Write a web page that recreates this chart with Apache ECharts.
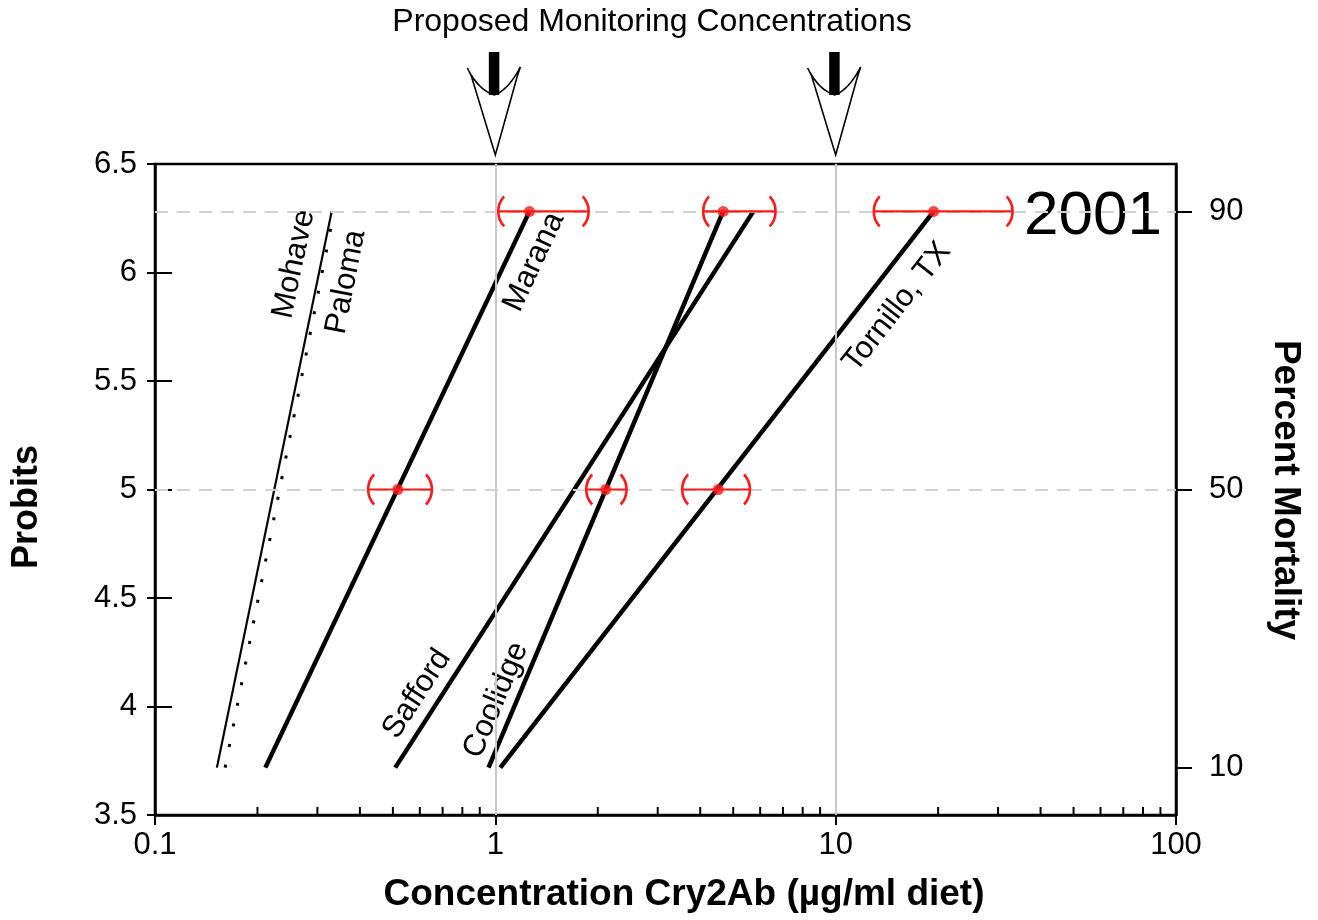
<!DOCTYPE html>
<html><head><meta charset="utf-8">
<script src="https://cdn.jsdelivr.net/npm/echarts@6/dist/echarts.min.js"></script>
<style>html,body{margin:0;padding:0;background:#fff}#chart{width:1318px;height:920px}</style>
</head><body><div id="chart"></div>
<script>
// ---------- data ----------
const populations = ['Mohave', 'Paloma', 'Marana', 'Safford', 'Coolidge', 'Tornillo, TX'];
const conc10 = [0.152, 0.1607, 0.211, 0.508, 0.955, 1.034];   // concentration at 10% mortality
const conc90 = [0.3305, 0.336, 1.26, 5.73, 4.67, 19.4];       // concentration at 90% mortality
const lc50Pops = ['Marana', 'Coolidge', 'Tornillo, TX'];
const lc50 = [0.517, 2.11, 4.52];
const lc50Low = [0.423, 1.85, 3.54];
const lc50High = [0.651, 2.43, 5.60];
const lc90 = [1.26, 4.67, 19.4];
const lc90Low = [1.02, 4.08, 12.94];
const lc90High = [1.88, 6.66, 33.1];
const monitorConc = [1, 10];
const mortalityPct = [10, 50, 90];
const mortalityProbit = [3.7184, 5, 6.2816];
const minorTicks = [0.2,0.3,0.4,0.5,0.6,0.7,0.8,0.9, 2,3,4,5,6,7,8,9, 20,30,40,50,60,70,80,90];

// ---------- styles ----------
const FONT = 'Liberation Sans, Arial, Helvetica, sans-serif';
const RED = '#ff1a1a';
const lineStyles = {
  'Mohave': {color: '#000', width: 2.2, type: 'solid'},
  'Paloma': {color: '#000', width: 3, type: [3, 18]},
  'Marana': {color: '#000', width: 4.5, type: 'solid'},
  'Safford': {color: '#000', width: 4.5, type: 'solid'},
  'Coolidge': {color: '#000', width: 4.5, type: 'solid'},
  'Tornillo, TX': {color: '#000', width: 4.5, type: 'solid'}
};

const chart = echarts.init(document.getElementById('chart'), null, {renderer: 'canvas'});

const lineSeries = populations.map((p, i) => ({
  name: p, type: 'line', xAxisIndex: 0, yAxisIndex: 0,
  data: [[conc10[i], mortalityProbit[0]], [conc90[i], mortalityProbit[2]]],
  showSymbol: false, symbol: 'none', silent: true, z: 4,
  lineStyle: lineStyles[p]
}));

const errData = [];
const dotData = [];
for (let i = 0; i < lc50Pops.length; i++) {
  errData.push([lc50Low[i], lc50High[i], lc50[i], mortalityProbit[1]]);
  errData.push([lc90Low[i], lc90High[i], lc90[i], mortalityProbit[2]]);
  dotData.push([lc50[i], mortalityProbit[1]]);
  dotData.push([lc90[i], mortalityProbit[2]]);
}

function quad(p0, c, p1, n) {
  const pts = [];
  for (let k = 0; k <= n; k++) {
    const t = k / n, u = 1 - t;
    pts.push([u*u*p0[0] + 2*u*t*c[0] + t*t*p1[0], u*u*p0[1] + 2*u*t*c[1] + t*t*p1[1]]);
  }
  return pts;
}

const option = {
  animation: false,
  backgroundColor: '#fff',
  textStyle: {fontFamily: FONT},
  grid: {left: 155, right: 142, top: 164, bottom: 105, show: true, borderColor: '#000', borderWidth: 2.5, backgroundColor: 'transparent'},
  xAxis: [
    {type: 'log', logBase: 10, min: 0.1, max: 100, position: 'bottom',
     axisLine: {show: true, lineStyle: {color: '#000', width: 2.5}},
     axisTick: {show: true, inside: true, length: 15, lineStyle: {color: '#000', width: 2}},
     axisLabel: {fontSize: 31, color: '#000', margin: 15, fontFamily: FONT},
     splitLine: {show: false}, minorTick: {show: false}},
    {type: 'log', logBase: 10, min: 0.1, max: 100, position: 'bottom',
     axisLine: {show: false},
     axisTick: {show: true, inside: false, length: 10, lineStyle: {color: '#000', width: 2}},
     axisLabel: {show: false}, splitLine: {show: false}}
  ],
  yAxis: [
    {type: 'value', min: 3.5, max: 6.5, interval: 0.5, position: 'left',
     axisLine: {show: true, lineStyle: {color: '#000', width: 2.5}},
     axisTick: {show: true, inside: true, length: 17, lineStyle: {color: '#000', width: 2}},
     axisLabel: {fontSize: 31, color: '#000', margin: 18, fontFamily: FONT},
     splitLine: {show: false}},
    {type: 'value', min: 3.5, max: 6.5, interval: 0.5, position: 'left',
     axisLine: {show: false},
     axisTick: {show: true, inside: false, length: 8, lineStyle: {color: '#000', width: 2}},
     axisLabel: {show: false}, splitLine: {show: false}},
    {type: 'value', min: 3.5, max: 6.5, position: 'right',
     axisLine: {show: true, lineStyle: {color: '#000', width: 2.5}},
     axisTick: {show: true, inside: false, length: 16, customValues: mortalityProbit, lineStyle: {color: '#000', width: 2}},
     axisLabel: {fontSize: 31, color: '#000', margin: 33, fontFamily: FONT, customValues: mortalityProbit,
       formatter: v => {
         let best = 0;
         mortalityProbit.forEach((q, k) => { if (Math.abs(q - v) < Math.abs(mortalityProbit[best] - v)) best = k; });
         return String(mortalityPct[best]);
       }},
     splitLine: {show: false}}
  ],
  series: [
    {type: 'line', name: 'guides', data: [], silent: true, z: 1, xAxisIndex: 0, yAxisIndex: 0,
     markLine: {
       silent: true, symbol: 'none', label: {show: false}, animation: false,
       data: monitorConc.map(c => ({xAxis: c, lineStyle: {color: '#c8c8c8', width: 2, type: 'solid'}}))
         .concat([mortalityProbit[1], mortalityProbit[2]].map(p => ({yAxis: p, lineStyle: {color: '#d2d2d2', width: 2, type: [13, 9]}})))
     }},
    {type: 'custom', name: 'minorTicks', xAxisIndex: 0, yAxisIndex: 0, silent: true, z: 5, clip: false,
     data: minorTicks.map(v => [v, 3.5]),
     renderItem: (params, api) => {
       const p = api.coord([api.value(0), api.value(1)]);
       return {type: 'line', shape: {x1: p[0], y1: p[1], x2: p[0], y2: p[1] - 8}, style: {stroke: '#000', lineWidth: 2}};
     }},
    ...lineSeries,
    {type: 'custom', name: 'fiducial', xAxisIndex: 0, yAxisIndex: 0, silent: true, z: 6,
     data: errData,
     encode: {x: [0, 1], y: 3},
     renderItem: (params, api) => {
       const lo = api.coord([api.value(0), api.value(3)]);
       const hi = api.coord([api.value(1), api.value(3)]);
       const r = 22, a = 43 * Math.PI / 180;
       return {type: 'group', children: [
         {type: 'line', shape: {x1: lo[0], y1: lo[1], x2: hi[0], y2: hi[1]}, style: {stroke: RED, lineWidth: 2.2}},
         {type: 'arc', shape: {cx: lo[0] + r, cy: lo[1], r: r, startAngle: Math.PI - a, endAngle: Math.PI + a, clockwise: true}, style: {stroke: RED, lineWidth: 2.6, fill: 'none'}},
         {type: 'arc', shape: {cx: hi[0] - r, cy: hi[1], r: r, startAngle: -a, endAngle: a, clockwise: true}, style: {stroke: RED, lineWidth: 2.6, fill: 'none'}}
       ]};
     }},
    {type: 'scatter', name: 'LC', xAxisIndex: 0, yAxisIndex: 0, data: dotData, symbol: 'circle', symbolSize: 11,
     itemStyle: {color: RED}, silent: true, z: 7},
    {type: 'custom', name: 'monitorArrows', xAxisIndex: 0, yAxisIndex: 0, silent: true, z: 8, clip: false,
     data: monitorConc.map(c => [c, 6.5]),
     renderItem: (params, api) => {
       const p = api.coord([api.value(0), api.value(1)]);
       const x0 = p[0], y0 = p[1];
       const wl = [x0 - 28, y0 - 96], notch = [x0 - 1, y0 - 69], wr = [x0 + 25, y0 - 97];
       let pts = quad(wl, [x0 - 17, y0 - 74], notch, 12);
       pts = pts.concat(quad(notch, [x0 + 13, y0 - 74], wr, 12).slice(1));
       pts.push([x0 + 22, y0 - 88], [x0, y0 - 9], [x0 - 24, y0 - 88]);
       return {type: 'group', children: [
         {type: 'polygon', shape: {points: pts}, style: {fill: '#fff', stroke: '#000', lineWidth: 1.6}},
         {type: 'rect', shape: {x: x0 - 6.5, y: y0 - 112, width: 10.5, height: 43}, style: {fill: '#000'}}
       ]};
     }}
  ],
  graphic: [
    {type: 'text', x: 652, y: 22, style: {text: 'Proposed Monitoring Concentrations', font: '32px ' + FONT, fill: '#000', align: 'center', verticalAlign: 'middle'}},
    {type: 'text', x: 1162, y: 217, style: {text: '2001', font: '62px ' + FONT, fill: '#000', align: 'right', verticalAlign: 'middle'}},
    {type: 'text', x: 684, y: 895, style: {text: 'Concentration Cry2Ab (µg/ml diet)', font: 'bold 37px ' + FONT, fill: '#000', align: 'center', verticalAlign: 'middle'}},
    {type: 'text', x: 27, y: 507, rotation: Math.PI / 2, style: {text: 'Probits', font: 'bold 36px ' + FONT, fill: '#000', align: 'center', verticalAlign: 'middle'}},
    {type: 'text', x: 1285, y: 490, rotation: -Math.PI / 2, style: {text: 'Percent Mortality', font: 'bold 37px ' + FONT, fill: '#000', align: 'center', verticalAlign: 'middle'}},
    {type: 'text', x: 294, y: 264, rotation: 78 * Math.PI / 180, style: {text: 'Mohave', font: '31px ' + FONT, fill: '#000', align: 'center', verticalAlign: 'middle'}},
    {type: 'text', x: 346, y: 282, rotation: 79 * Math.PI / 180, style: {text: 'Paloma', font: '31px ' + FONT, fill: '#000', align: 'center', verticalAlign: 'middle'}},
    {type: 'text', x: 534, y: 262, rotation: 65 * Math.PI / 180, style: {text: 'Marana', font: '31px ' + FONT, fill: '#000', align: 'center', verticalAlign: 'middle'}},
    {type: 'text', x: 417, y: 694, rotation: 57 * Math.PI / 180, style: {text: 'Safford', font: '31px ' + FONT, fill: '#000', align: 'center', verticalAlign: 'middle'}},
    {type: 'text', x: 496, y: 700, rotation: 67 * Math.PI / 180, style: {text: 'Coolidge', font: '31px ' + FONT, fill: '#000', align: 'center', verticalAlign: 'middle'}},
    {type: 'text', x: 897, y: 307, rotation: 52 * Math.PI / 180, style: {text: 'Tornillo, TX', font: '31px ' + FONT, fill: '#000', align: 'center', verticalAlign: 'middle'}}
  ]
};
chart.setOption(option);
</script></body></html>
